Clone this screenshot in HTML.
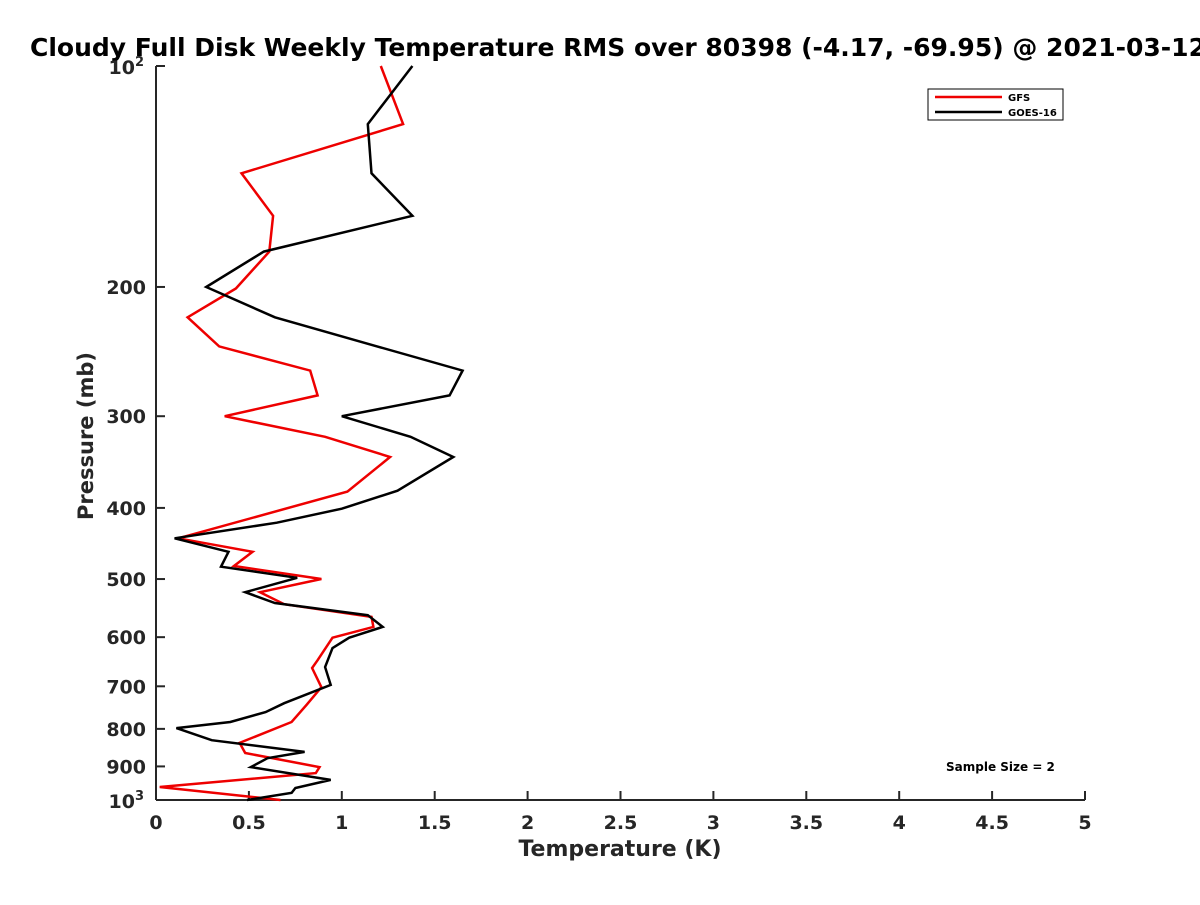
<!DOCTYPE html>
<html><head><meta charset="utf-8"><style>
body{margin:0;background:#fff}
svg{font-family:"DejaVu Sans","Liberation Sans",sans-serif;font-weight:bold}
</style></head><body>
<svg id="chart" width="1200" height="900" viewBox="0 0 1200 900" xmlns="http://www.w3.org/2000/svg">
<rect width="1200" height="900" fill="#fff"/>
<text x="30" y="56" font-size="25" fill="#000">Cloudy Full Disk Weekly Temperature RMS over 80398 (-4.17, -69.95) @ 2021-03-12</text>
<g id="axes"></g>
<g id="series"></g>
<g>
<rect x="928" y="89" width="135" height="31" fill="#fff" stroke="#000" stroke-width="1"/>
<line x1="935" y1="97" x2="1002" y2="97" stroke="#e00" stroke-width="2.5"/>
<text x="1008" y="101" font-size="10">GFS</text>
<line x1="935" y1="112" x2="1002" y2="112" stroke="#000" stroke-width="2.5"/>
<text x="1008" y="116" font-size="10">GOES-16</text>
</g>
<text x="946" y="771" font-size="12">Sample Size = 2</text>
<text x="620" y="856" font-size="22" text-anchor="middle" fill="#262626">Temperature (K)</text>
<text transform="translate(93,436) rotate(-90)" font-size="21" text-anchor="middle" fill="#262626">Pressure (mb)</text>
</svg>
<script>
const xTicks=[0,0.5,1,1.5,2,2.5,3,3.5,4,4.5,5];
const xTickLabels=["0","0.5","1","1.5","2","2.5","3","3.5","4","4.5","5"];
const yTicks=[100,200,300,400,500,600,700,800,900,1000];
const yTickLabels=["","200","300","400","500","600","700","800","900",""];
const gfsPressure=[100,120,140,160,179,201,220,241,260,281,300,320,341,380,440,459,480,500,521,541,563,581,601,645,661,702,742,783,836,863,902,919,960,1000];
const gfsTemp=[1.21,1.33,0.46,0.63,0.61,0.43,0.17,0.34,0.83,0.87,0.37,0.91,1.26,1.03,0.12,0.52,0.42,0.89,0.56,0.69,1.16,1.17,0.95,0.87,0.84,0.89,0.81,0.73,0.45,0.48,0.88,0.86,0.02,0.67];
const goesPressure=[100,120,140,160,179,200,220,241,260,281,300,320,341,379,401,419,440,459,481,498,521,539,560,581,601,621,659,697,738,759,783,798,829,860,877,902,939,963,978,1000];
const goesTemp=[1.38,1.14,1.16,1.38,0.58,0.27,0.64,1.19,1.65,1.58,1.00,1.37,1.60,1.30,1.00,0.65,0.10,0.39,0.35,0.76,0.48,0.64,1.14,1.22,1.04,0.95,0.91,0.94,0.69,0.59,0.40,0.11,0.30,0.80,0.60,0.51,0.94,0.75,0.73,0.49];
const X0=156,X1=1085,Y0=66,Y1=800;
const xs=v=>X0+(v/5)*(X1-X0);
const ys=p=>Y0+(Math.log10(p)-2)*(Y1-Y0);
const NS="http://www.w3.org/2000/svg";
function mk(t,a,parent){const e=document.createElementNS(NS,t);for(const k in a)e.setAttribute(k,a[k]);parent.appendChild(e);return e;}
const ax=document.getElementById('axes');
const c="#262626";
let l=mk('line',{x1:X0,y1:Y0,x2:X0,y2:Y1,stroke:c,'stroke-width':2},ax);


l=mk('line',{x1:X0,y1:Y1,x2:X1,y2:Y1,stroke:c,'stroke-width':2},ax);


xTicks.forEach((v,i)=>{
  mk('line',{x1:xs(v),y1:Y1,x2:xs(v),y2:Y1-9,stroke:c,'stroke-width':2},ax);
  const t=mk('text',{x:xs(v),y:Y1+29,'font-size':19,'text-anchor':'middle',fill:c},ax);
  t.textContent=xTickLabels[i];
  
  
});
yTicks.forEach((p,i)=>{
  mk('line',{x1:X0,y1:ys(p),x2:X0+9,y2:ys(p),stroke:c,'stroke-width':2},ax);
  if(yTickLabels[i]){
    const t=mk('text',{x:X0-10,y:ys(p)+7,'font-size':19,'text-anchor':'end',fill:c},ax);
    t.textContent=yTickLabels[i];
    
    
  }
});
[[100,"2"],[1000,"3"]].forEach(([p,e])=>{
  const t=mk('text',{x:X0-12,y:ys(p)+8,'font-size':19,'text-anchor':'end',fill:c},ax);
  t.innerHTML='10<tspan dy="-8" font-size="13">'+e+'</tspan>';
  
  
});
const sg=document.getElementById('series');
function line(P,T,col,name){
  const pts=P.map((p,i)=>xs(T[i]).toFixed(1)+','+ys(p).toFixed(1)).join(' ');
  const e=mk('polyline',{points:pts,fill:'none',stroke:col,'stroke-width':2.5,'stroke-linejoin':'miter'},sg);
  
  
}
line(gfsPressure,gfsTemp,'#e00','gfs-line');
line(goesPressure,goesTemp,'#000','goes16-line');
</script>
</body></html>
